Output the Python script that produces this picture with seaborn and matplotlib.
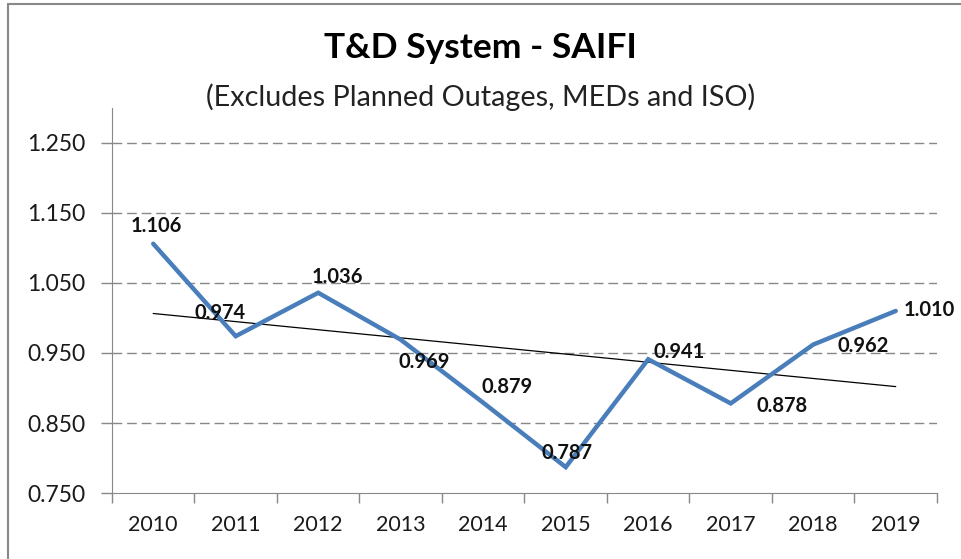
import numpy as np
import pandas as pd
import matplotlib.pyplot as plt
import seaborn as sns
from matplotlib.lines import Line2D

# data
years = [2010, 2011, 2012, 2013, 2014, 2015, 2016, 2017, 2018, 2019]
saifi = [1.106, 0.974, 1.036, 0.969, 0.879, 0.787, 0.941, 0.878, 0.962, 1.010]
y_ticks = [0.750, 0.850, 0.950, 1.050, 1.150, 1.250]

# label offsets in points (style only)
label_offsets = [(2, 13), (-11, 17), (14, 11), (17, -16), (17, 11),
                 (1, 10), (22, 5), (37, -2), (36, -1), (24, 1)]

df = pd.DataFrame({'year': years, 'saifi': saifi})

sns.set_style('white')
plt.rcParams['font.family'] = ['Lato', 'DejaVu Sans']

fig = plt.figure(figsize=(9.61, 5.59), dpi=100)
ax = fig.add_axes([0.1165, 0.118, 0.8585, 0.689])

blue = '#4a7ebb'
sns.lineplot(data=df, x='year', y='saifi', ax=ax, color=blue, linewidth=3.2,
             solid_capstyle='round', solid_joinstyle='miter')

# linear trendline
coef = np.polyfit(df['year'], df['saifi'], 1)
ax.plot(df['year'], np.polyval(coef, df['year']), color='black', linewidth=0.9, zorder=1)

for (yr, v), (dx, dy) in zip(zip(years, saifi), label_offsets):
    ax.annotate(f'{v:.3f}', (yr, v), xytext=(dx, dy), textcoords='offset points',
                ha='center', va='center', fontsize=14.5, fontweight='bold', color='#111111')

ax.set_xlim(years[0] - 0.5, years[-1] + 0.5)
ax.set_ylim(0.75, 1.30)
ax.set_yticks(y_ticks)
ax.set_yticklabels([f'{t:.3f}' for t in y_ticks], fontsize=16.5, color='#1a1a1a')

# year labels centered, tick marks between categories
ax.set_xticks([y - 0.5 for y in years] + [years[-1] + 0.5])
ax.set_xticklabels([])
ax.set_xticks(years, minor=True)
ax.set_xticklabels([str(y) for y in years], minor=True, fontsize=15.5, color='#1a1a1a')
ax.tick_params(axis='x', which='major', length=7, width=1, color='#888888', direction='out', bottom=True)
ax.tick_params(axis='x', which='minor', length=0, pad=16)
ax.tick_params(axis='y', length=8, width=1, color='#888888', direction='out', left=True, pad=11)

for t in y_ticks[1:]:
    ax.axhline(t, color='#888888', linewidth=1, linestyle=(0, (7, 3.5)), zorder=0)

sns.despine(ax=ax, top=True, right=True)
ax.spines['left'].set_color('#888888')
ax.spines['bottom'].set_color('#888888')
ax.set_xlabel('')
ax.set_ylabel('')

fig.text(0.5, 0.914, 'T&D System - SAIFI', ha='center', va='center',
         fontsize=25.5, fontweight='bold', color='black')
fig.text(0.5, 0.826, '(Excludes Planned Outages, MEDs and ISO)', ha='center', va='center',
         fontsize=20.7, color='#222222')

# chart border (top and left visible)
fig.add_artist(Line2D([0.008, 1.0], [0.993, 0.993], transform=fig.transFigure, color='#888888', linewidth=1.5))
fig.add_artist(Line2D([0.008, 0.008], [0.0, 0.993], transform=fig.transFigure, color='#888888', linewidth=1.5))

fig.savefig('out.png', dpi=100)
